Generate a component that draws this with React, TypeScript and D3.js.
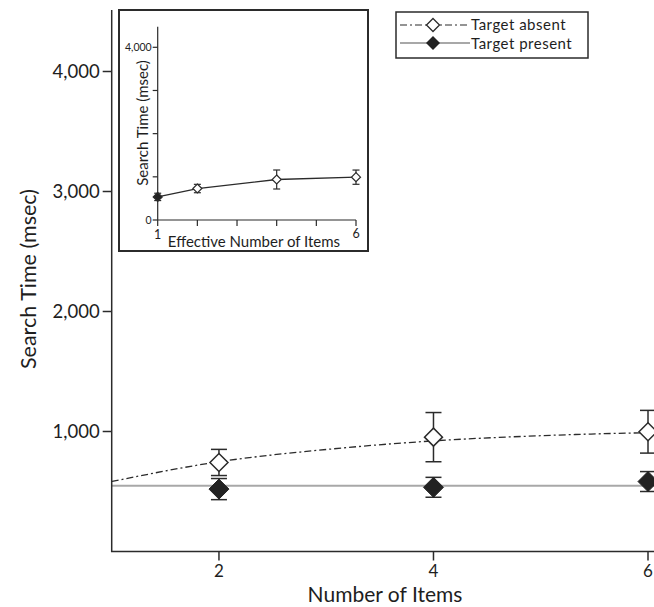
import React from "react";
import * as d3 from "d3";

// main plot: mean search time per set size
const items = [2, 4, 6];
const absentMean = [742, 953, 998];
const absentSe = [109, 205, 178];
const presentMean = [520, 535, 583];
const presentSe = [88, 83, 83];

// fitted curves
const fitX = [1, 2, 3, 4, 5, 6, 6.2];
const absentFit = [583, 748, 850, 922, 965, 990, 993];
const presentFit = [548, 548, 548, 548, 548, 548, 548];

const yTicks = [1000, 2000, 3000, 4000];
const xTicks = [2, 4, 6];

// inset: effective number of items
const effItems = [1, 2, 4, 6];
const insetMean = [535, 729, 938, 992];
const insetSe = [85, 97, 220, 165];
const insetFilled = [true, false, false, false];
const insetXTicks = [1, 2, 3, 4, 5, 6];
const insetYTicks = [0, 1000, 2000, 3000, 4000];

const FONT = "Lato, 'Open Sans', sans-serif";
const INK = "#2b2b2b";

const diamond = (cx: number, cy: number, r: number) =>
  `M${cx},${cy - r}L${cx + r},${cy}L${cx},${cy + r}L${cx - r},${cy}Z`;

const ErrorBar = ({ x, y0, y1, cap, w }: { x: number; y0: number; y1: number; cap: number; w: number }) => (
  <g stroke={INK} strokeWidth={w}>
    <line x1={x} x2={x} y1={y0} y2={y1} />
    <line x1={x - cap} x2={x + cap} y1={y0} y2={y0} />
    <line x1={x - cap} x2={x + cap} y1={y1} y2={y1} />
  </g>
);

export default function App() {
  const width = 654;
  const height = 607;

  const x = d3.scaleLinear().domain([1, 6]).range([111.7, 648]);
  const y = d3.scaleLinear().domain([0, 4000]).range([551.5, 71.5]);
  const yTop = 10;

  const line = d3
    .line<number>()
    .x((_, i) => x(fitX[i]))
    .y((d) => y(d))
    .curve(d3.curveMonotoneX);

  // inset scales
  const ix = d3.scaleLinear().domain([1, 6]).range([157.7, 356]);
  const iy = d3.scaleLinear().domain([0, 4000]).range([220, 47.3]);
  const insetLine = d3
    .line<number>()
    .x((_, i) => ix(effItems[i]))
    .y((d) => iy(d));

  return (
    <svg
      width={width}
      height={height}
      style={{ position: "absolute", left: 0, top: 0, background: "#fff" }}
      fontFamily={FONT}
    >
      <rect width={width} height={height} fill="#fff" />

      {/* fitted lines */}
      <path d={line(presentFit) || ""} fill="none" stroke="#a8a8a8" strokeWidth={2} />
      <path
        d={line(absentFit) || ""}
        fill="none"
        stroke={INK}
        strokeWidth={1.3}
        strokeDasharray="7,3,2,3"
      />

      {/* error bars */}
      {items.map((d, i) => (
        <g key={"e" + d}>
          <ErrorBar x={x(d)} y0={y(absentMean[i] + absentSe[i])} y1={y(absentMean[i] - absentSe[i])} cap={8} w={1.5} />
          <ErrorBar x={x(d)} y0={y(presentMean[i] + presentSe[i])} y1={y(presentMean[i] - presentSe[i])} cap={8} w={1.5} />
        </g>
      ))}

      {/* markers */}
      {items.map((d, i) => (
        <g key={"m" + d}>
          <path d={diamond(x(d), y(absentMean[i]), 9)} fill="#fff" stroke={INK} strokeWidth={1.5} />
          <path d={diamond(x(d), y(presentMean[i]), 10)} fill="#222" stroke="#222" strokeWidth={1} />
        </g>
      ))}

      {/* axes */}
      <g stroke={INK} strokeWidth={1.5}>
        <line x1={x(1)} x2={x(1)} y1={yTop} y2={y(0)} />
        <line x1={x(1) - 0.75} x2={width + 10} y1={y(0)} y2={y(0)} />
        {yTicks.map((t) => (
          <line key={t} x1={x(1) - 9} x2={x(1)} y1={y(t)} y2={y(t)} />
        ))}
        {xTicks.map((t) => (
          <line key={t} x1={x(t)} x2={x(t)} y1={y(0)} y2={y(0) + 9} />
        ))}
      </g>
      {yTicks.map((t) => (
        <text key={t} x={x(1) - 12} y={y(t) + 6} textAnchor="end" fontSize={18.5} fill="#1e1e1e">
          {d3.format(",")(t)}
        </text>
      ))}
      {xTicks.map((t) => (
        <text key={t} x={x(t)} y={576.5} textAnchor="middle" fontSize={17} fill="#1e1e1e">
          {t}
        </text>
      ))}
      <text x={385} y={601.5} textAnchor="middle" fontSize={21} fill="#1e1e1e">
        Number of Items
      </text>
      <text transform="translate(36,279) rotate(-90)" textAnchor="middle" fontSize={21.5} fill="#1e1e1e">
        Search Time (msec)
      </text>

      {/* inset */}
      <rect x={119} y={10} width={249} height={241} fill="#fff" stroke={INK} strokeWidth={2} />
      <g stroke={INK} strokeWidth={1.2}>
        <line x1={ix(1)} x2={ix(1)} y1={26.7} y2={iy(0)} />
        <line x1={ix(1)} x2={ix(6)} y1={iy(0)} y2={iy(0)} />
        {insetYTicks.map((t) => (
          <line key={t} x1={ix(1) - 5} x2={ix(1)} y1={iy(t)} y2={iy(t)} />
        ))}
        {insetXTicks.map((t) => (
          <line key={t} x1={ix(t)} x2={ix(t)} y1={iy(0)} y2={iy(0) + 6} />
        ))}
      </g>
      <path d={insetLine(insetMean) || ""} fill="none" stroke={INK} strokeWidth={1.3} />
      {effItems.map((d, i) => (
        <g key={"ie" + d}>
          <ErrorBar x={ix(d)} y0={iy(insetMean[i] + insetSe[i])} y1={iy(insetMean[i] - insetSe[i])} cap={3.5} w={1.2} />
          <path
            d={diamond(ix(d), iy(insetMean[i]), 4.5)}
            fill={insetFilled[i] ? "#222" : "#fff"}
            stroke={INK}
            strokeWidth={1.2}
          />
        </g>
      ))}
      <text x={ix(1) - 6} y={iy(4000) + 3.5} textAnchor="end" fontSize={10.5} fill="#1e1e1e">
        4,000
      </text>
      <text x={ix(1) - 6} y={iy(0) + 3.5} textAnchor="end" fontSize={10.5} fill="#1e1e1e">
        0
      </text>
      <text x={ix(1)} y={239} textAnchor="middle" fontSize={12.5} fill="#1e1e1e">
        1
      </text>
      <text x={ix(6)} y={238} textAnchor="middle" fontSize={12.5} fill="#1e1e1e">
        6
      </text>
      <text x={254} y={247} textAnchor="middle" fontSize={15} fill="#1e1e1e">
        Effective Number of Items
      </text>
      <text transform="translate(147.5,123) rotate(-90)" textAnchor="middle" fontSize={15} fill="#1e1e1e">
        Search Time (msec)
      </text>

      {/* legend */}
      <rect x={396} y={12} width={192} height={46} fill="#fff" stroke={INK} strokeWidth={1.5} />
      <line x1={400} x2={470} y1={25} y2={25} stroke={INK} strokeWidth={1.2} strokeDasharray="7,3,2,3" />
      <path d={diamond(433, 25, 6.5)} fill="#fff" stroke={INK} strokeWidth={1.3} />
      <text x={471} y={30} fontSize={15} letterSpacing={0.5} fill="#1e1e1e">
        Target absent
      </text>
      <line x1={400} x2={470} y1={43} y2={43} stroke="#a8a8a8" strokeWidth={2} />
      <path d={diamond(433, 43, 7)} fill="#222" />
      <text x={471} y={49} fontSize={15} letterSpacing={0.5} fill="#1e1e1e">
        Target present
      </text>
    </svg>
  );
}
